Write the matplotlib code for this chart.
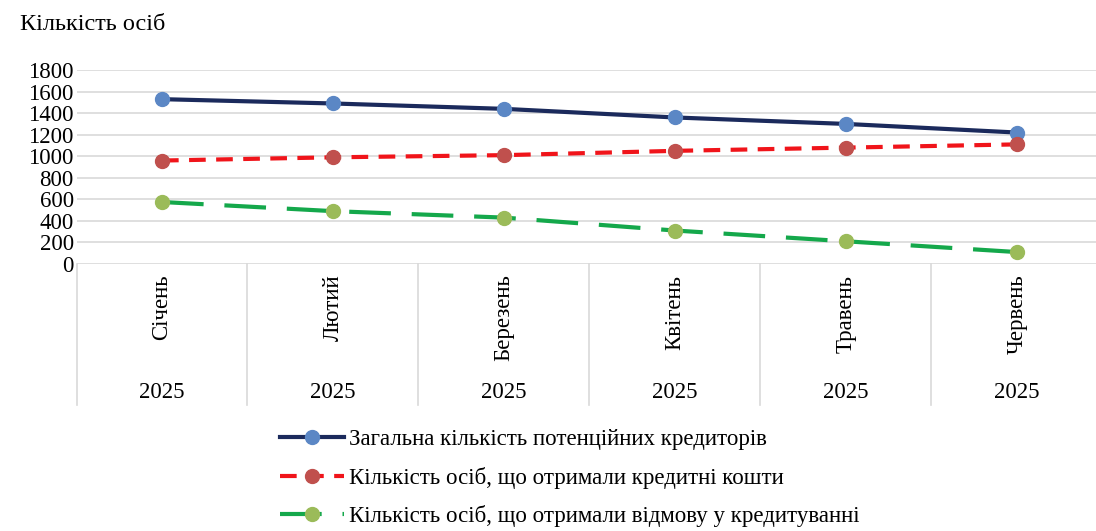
import matplotlib
matplotlib.use("Agg")
import matplotlib.pyplot as plt
import matplotlib.transforms as mtransforms
import numpy as np

plt.rcParams["font.family"] = ["Liberation Serif", "DejaVu Serif"]

months = ["Січень", "Лютий", "Березень", "Квітень", "Травень", "Червень"]
years = ["2025"] * 6
total_potential = [1530, 1490, 1440, 1360, 1300, 1220]
got_credit = [960, 990, 1010, 1050, 1080, 1110]
refused = [575, 490, 430, 310, 210, 110]

labels = [
    "Загальна кількість потенційних кредиторів",
    "Кількість осіб, що отримали кредитні кошти",
    "Кількість осіб, що отримали відмову у кредитуванні",
]

fig = plt.figure(figsize=(10.96, 5.31), dpi=100)
ax = fig.add_axes([0.0698, 0.503, 0.936, 0.365])

x = np.arange(len(months))
h1, = ax.plot(x, total_potential, "-", color="#1b2a5c", lw=3, marker="o", ms=10,
              mfc="#5b87c5", mec="#5b87c5", label=labels[0], zorder=3)
h2, = ax.plot(x, got_credit, "--", color="#f0141a", lw=3, marker="o", ms=10,
              mfc="#c0504d", mec="#c0504d", dashes=(4, 2.5), label=labels[1], zorder=3)
h3, = ax.plot(x, refused, "--", color="#14a84b", lw=3, marker="o", ms=10,
              mfc="#9bbb59", mec="#9bbb59", dashes=(10, 5), label=labels[2], zorder=3)

ax.set_xlim(-0.5, len(months) - 0.5)
ax.set_ylim(0, 1800)
ax.set_yticks(range(0, 1801, 200))
ax.tick_params(axis="y", length=0, labelsize=16.5, pad=2)
ax.tick_params(axis="x", length=0, labelbottom=False)
ax.grid(axis="y", color="#d9d9d9", lw=1.2)
ax.set_axisbelow(True)
for s in ax.spines.values():
    s.set_visible(False)

# multi-level category axis
trans = mtransforms.blended_transform_factory(ax.transData, ax.transAxes)
for xs in np.arange(-0.5, len(months), 1.0):
    ax.plot([xs, xs], [0, -0.727], color="#d9d9d9", lw=1.2, transform=trans, clip_on=False)
for i, (m, yr) in enumerate(zip(months, years)):
    ax.text(i, -0.055, m, rotation=90, ha="center", va="top", fontsize=16.5, transform=trans)
    ax.text(i, -0.665, yr, ha="center", va="center", fontsize=16.5, transform=trans)

fig.text(0.018, 0.953, "Кількість осіб", fontsize=17.5, va="center", ha="left")

fig.legend(handles=[h1, h2, h3], loc="upper left", bbox_to_anchor=(0.247, 0.209),
           frameon=False, fontsize=16.5, handlelength=2.8, handletextpad=0.2,
           labelspacing=0.72, borderaxespad=0)

fig.savefig("out.png", dpi=100)
